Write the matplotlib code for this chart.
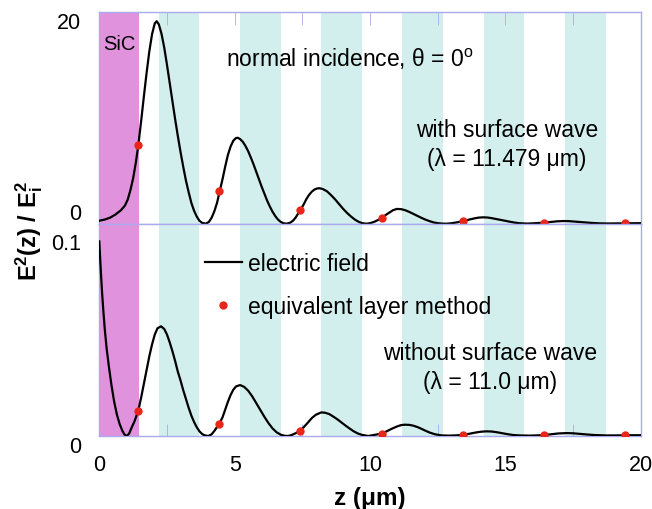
import matplotlib

matplotlib.use("Agg")
import matplotlib.pyplot as plt

plt.rcParams["font.family"] = ["Liberation Sans", "DejaVu Sans"]
plt.rcParams["mathtext.fontset"] = "custom"
plt.rcParams["mathtext.rm"] = "Liberation Sans"
plt.rcParams["mathtext.it"] = "Liberation Sans:italic"
plt.rcParams["mathtext.bf"] = "Liberation Sans:bold"

# field profile with surface wave (lambda = 11.479 um)
z_top = [0.0, 0.2, 0.4, 0.6, 0.8, 0.95, 1.05, 1.15, 1.25, 1.35, 1.44, 1.55,
         1.65, 1.75, 1.85, 1.95, 2.05, 2.12, 2.2, 2.3, 2.4, 2.5, 2.6, 2.7,
         2.8, 2.9, 3.0, 3.1, 3.2, 3.3, 3.4, 3.5, 3.6, 3.7, 3.8, 3.94,
         4.05, 4.15, 4.25, 4.35, 4.43, 4.55, 4.65, 4.75, 4.85, 4.95, 5.05, 5.12,
         5.2, 5.3, 5.4, 5.5, 5.6, 5.7, 5.8, 5.9, 6.0, 6.1, 6.2, 6.3,
         6.4, 6.5, 6.6, 6.7, 6.8, 6.92, 7.05, 7.15, 7.25, 7.35, 7.43, 7.55,
         7.65, 7.75, 7.85, 7.95, 8.05, 8.13, 8.25, 8.4, 8.55, 8.7, 8.85, 9.0,
         9.15, 9.3, 9.45, 9.6, 9.75, 9.88, 10.0, 10.15, 10.3, 10.43, 10.55, 10.7,
         10.85, 10.99, 11.15, 11.3, 11.45, 11.6, 11.75, 11.9, 12.05, 12.2, 12.35, 12.5,
         12.65, 12.83, 13.0, 13.2, 13.43, 13.6, 13.8, 14.0, 14.18, 14.35, 14.5, 14.7,
         14.9, 15.1, 15.3, 15.5, 15.79, 16.0, 16.2, 16.43, 16.65, 16.9, 17.14, 17.35,
         17.6, 17.9, 18.2, 18.5, 18.8, 19.1, 19.42, 19.7, 20.0]
e_top = [0.31, 0.42, 0.6, 0.9, 1.3, 1.75, 2.3, 3.2, 4.3, 5.8, 7.4, 9.8,
         12.1, 14.3, 16.3, 17.9, 18.9, 19.1, 18.8, 17.9, 16.6, 15.0, 13.3, 11.6,
         9.9, 8.3, 6.8, 5.4, 4.1, 3.0, 2.0, 1.25, 0.7, 0.3, 0.1, 0.03,
         0.2, 0.6, 1.2, 2.0, 2.9, 4.2, 5.4, 6.5, 7.3, 7.85, 8.1, 8.12,
         8.0, 7.75, 7.35, 6.85, 6.25, 5.6, 4.9, 4.2, 3.5, 2.85, 2.2, 1.65,
         1.15, 0.75, 0.42, 0.2, 0.07, 0.03, 0.12, 0.3, 0.6, 1.0, 1.3, 1.85,
         2.35, 2.75, 3.05, 3.25, 3.35, 3.37, 3.3, 3.1, 2.75, 2.35, 1.9, 1.45,
         1.05, 0.7, 0.4, 0.18, 0.06, 0.03, 0.08, 0.2, 0.38, 0.57, 0.8, 1.05,
         1.3, 1.42, 1.4, 1.3, 1.14, 0.95, 0.76, 0.58, 0.41, 0.27, 0.15, 0.08,
         0.04, 0.03, 0.07, 0.15, 0.27, 0.38, 0.5, 0.6, 0.63, 0.61, 0.55, 0.45,
         0.35, 0.25, 0.15, 0.08, 0.04, 0.06, 0.09, 0.13, 0.19, 0.25, 0.28, 0.27,
         0.22, 0.16, 0.1, 0.06, 0.05, 0.06, 0.07, 0.08, 0.08]

# field profile without surface wave (lambda = 11.0 um)
z_bot = [0.0, 0.05, 0.1, 0.15, 0.2, 0.27, 0.35, 0.45, 0.55, 0.65, 0.75, 0.85,
         0.93, 1.01, 1.1, 1.2, 1.3, 1.44, 1.55, 1.65, 1.75, 1.85, 1.95, 2.05,
         2.15, 2.28, 2.4, 2.5, 2.6, 2.7, 2.8, 2.9, 3.0, 3.1, 3.2, 3.3,
         3.4, 3.5, 3.6, 3.7, 3.8, 3.9, 4.03, 4.15, 4.25, 4.35, 4.43, 4.55,
         4.65, 4.75, 4.85, 4.95, 5.05, 5.2, 5.35, 5.5, 5.65, 5.8, 5.95, 6.1,
         6.25, 6.4, 6.55, 6.7, 6.85, 6.98, 7.1, 7.25, 7.42, 7.55, 7.7, 7.85,
         8.0, 8.2, 8.35, 8.5, 8.65, 8.8, 8.95, 9.1, 9.25, 9.4, 9.55, 9.7,
         9.93, 10.1, 10.25, 10.43, 10.6, 10.8, 11.0, 11.15, 11.29, 11.45, 11.6, 11.75,
         11.9, 12.05, 12.2, 12.4, 12.65, 12.9, 13.15, 13.42, 13.65, 13.9, 14.1, 14.3,
         14.5, 14.7, 14.9, 15.1, 15.3, 15.55, 15.9, 16.15, 16.43, 16.7, 16.95, 17.27,
         17.5, 17.75, 18.0, 18.3, 18.7, 19.1, 19.43, 19.75, 20.0]
e_bot = [0.0997, 0.086, 0.074, 0.064, 0.055, 0.045, 0.036, 0.026, 0.0175, 0.011, 0.0062, 0.0027,
         0.0008, 0.0, 0.0012, 0.0045, 0.0075, 0.013, 0.02, 0.027, 0.034, 0.041, 0.047, 0.052,
         0.0552, 0.0562, 0.0548, 0.052, 0.048, 0.0435, 0.0385, 0.033, 0.0285, 0.0235, 0.019, 0.0145,
         0.0105, 0.0072, 0.0045, 0.0024, 0.001, 0.0003, 0.0, 0.0009, 0.0026, 0.0047, 0.0063, 0.0095,
         0.0135, 0.0175, 0.021, 0.0237, 0.0254, 0.0261, 0.0252, 0.0232, 0.0203, 0.0168, 0.0132, 0.0098,
         0.0066, 0.0039, 0.0019, 0.0007, 0.0001, 0.0, 0.0005, 0.0014, 0.0028, 0.0045, 0.0068, 0.0092,
         0.0109, 0.0121, 0.0119, 0.0112, 0.0099, 0.0085, 0.0069, 0.0053, 0.0038, 0.0024, 0.0013, 0.0006,
         0.0, 0.0004, 0.0008, 0.0013, 0.0023, 0.0037, 0.0049, 0.0056, 0.0058, 0.0057, 0.0053, 0.0046,
         0.0037, 0.0027, 0.0018, 0.0009, 0.0003, 0.0002, 0.0003, 0.0006, 0.0011, 0.0018, 0.0022, 0.0024,
         0.0023, 0.0019, 0.0014, 0.0009, 0.0005, 0.0003, 0.0002, 0.0003, 0.0005, 0.0009, 0.0013, 0.0015,
         0.0014, 0.0011, 0.0008, 0.0005, 0.0003, 0.0003, 0.0004, 0.0004, 0.0004]

# equivalent layer method points
z_dots = [1.44, 4.43, 7.43, 10.43, 13.43, 16.43, 19.43]
dots_top = [7.45, 3.08, 1.3, 0.57, 0.25, 0.12, 0.07]
dots_bot = [0.013, 0.0061, 0.0027, 0.0012, 0.0005, 0.0004, 0.0003]

sic_end = 1.45
layer_start = [2.2, 5.2, 8.2, 11.2, 14.2, 17.2]
layer_end = [3.7, 6.7, 9.7, 12.7, 15.7, 18.7]

SPINE = "#aaaaee"
SIC = "#e192dc"
LAYER = "#d3efed"
DOT = "#e8261a"
FS = 16.5

fig = plt.figure(figsize=(6.52, 5.10), dpi=100)
ax_top = fig.add_axes([0.1523, 0.5588, 0.8304, 0.4163])
ax_bot = fig.add_axes([0.1523, 0.1431, 0.8304, 0.4157])

for ax in (ax_top, ax_bot):
    ax.axvspan(0, sic_end, color=SIC, lw=0, zorder=0)
    for a, b in zip(layer_start, layer_end):
        ax.axvspan(a, b, color=LAYER, lw=0, zorder=0)
    ax.set_xlim(0, 20)
    for sp in ax.spines.values():
        sp.set_color(SPINE)
        sp.set_linewidth(1.0)
    ax.tick_params(axis="y", length=0, labelsize=15.5, pad=13)

line, = ax_top.plot(z_top, e_top, color="black", lw=1.6, zorder=3)
ax_top.plot(z_dots, dots_top, "o", color=DOT, ms=6, mec="none", zorder=4)
ax_bot.plot(z_bot, e_bot, color="black", lw=1.6, zorder=3)
dots, = ax_bot.plot(z_dots, dots_bot, "o", color=DOT, ms=6, mec="none", zorder=4)

ax_top.set_ylim(0, 20)
ax_top.set_yticks([0, 20])
ax_top.set_yticklabels(["0", "20"])
ax_top.get_yticklabels()[0].set_va("bottom")
ax_top.get_yticklabels()[1].set_va("top")
ax_top.set_xticks([])
ax_top.set_xticks([2.5, 5, 7.5, 10, 12.5, 15, 17.5], minor=True)
ax_top.tick_params(axis="x", which="minor", direction="in", top=True, bottom=False,
                   length=9, color=SPINE)

ax_bot.set_ylim(0, 0.1086)
ax_bot.set_yticks([0, 0.1])
ax_bot.set_yticklabels(["0", "0.1"])
ax_bot.get_yticklabels()[0].set_va("top")
ax_bot.set_xticks([0, 5, 10, 15, 20])
ax_bot.set_xticks([2.5, 5, 7.5, 10, 12.5, 15, 17.5], minor=True)
ax_bot.tick_params(axis="x", which="major", length=0, labelsize=15.5, pad=13)
ax_bot.tick_params(axis="x", which="minor", direction="in", length=9, color=SPINE)
ax_bot.set_xlabel("z (μm)", fontsize=17.5, fontweight="bold", labelpad=8)

ax_top.text(0.14, 17.0, "SiC", fontsize=14.5, ha="left", va="center")
ax_top.text(9.27, 15.6, r"normal incidence, θ = 0$^\mathrm{o}$", fontsize=FS,
            ha="center", va="center")
ax_top.text(15.05, 7.55, "with surface wave\n(λ = 11.479 μm)", fontsize=FS,
            ha="center", va="center", linespacing=1.3)
ax_bot.text(14.45, 0.0353, "without surface wave\n(λ = 11.0 μm)", fontsize=FS,
            ha="center", va="center", linespacing=1.3)

ax_bot.legend([line, dots], ["electric field", "equivalent layer method"],
              loc="upper left", bbox_to_anchor=(0.195, 0.87), frameon=False,
              fontsize=FS, handlelength=1.6, handletextpad=0.3, labelspacing=0.9,
              borderpad=0, borderaxespad=0)

fig.text(0.044, 0.547, r"E$^\mathbf{2}$(z) / E$_\mathbf{i}^\mathbf{2}$", rotation=90,
         fontsize=17, fontweight="bold", ha="center", va="center")

fig.savefig("out.png", dpi=100)
